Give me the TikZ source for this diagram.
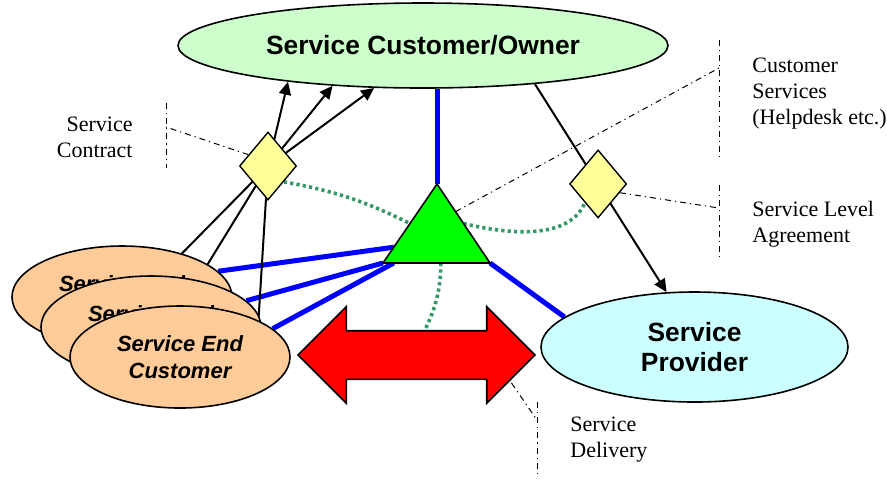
\documentclass[tikz,border=0pt]{standalone}
\usepackage{fontspec}
\setmainfont{Liberation Serif}
\setsansfont{Liberation Sans}
\usepackage{xcolor}
\definecolor{ownergreen}{RGB}{204,255,204}
\definecolor{providercyan}{RGB}{204,255,255}
\definecolor{custpeach}{RGB}{255,204,153}
\definecolor{slayellow}{RGB}{255,255,153}
\definecolor{hubgreen}{RGB}{0,255,0}
\definecolor{tracegreen}{RGB}{51,153,102}
\usepackage{tikz}
\usetikzlibrary{positioning,calc,backgrounds}
\usetikzlibrary{shapes.geometric,shapes.arrows}
\usetikzlibrary{arrows.meta}
\tikzset{>={Triangle[length=6.5pt,width=6pt]}}
\tikzset{
  party/.style    ={ ellipse, draw=black, line width=0.8pt, inner sep=0pt, align=center,
                     font=\sffamily\bfseries\fontsize{13.2}{15}\selectfont },
  customer/.style ={ party, fill=custpeach, minimum width=110pt, minimum height=51pt,
                     font=\sffamily\bfseries\itshape\fontsize{11}{13.5}\selectfont },
  agreement/.style={ diamond, draw=black, line width=0.7pt, fill=slayellow, inner sep=0pt,
                     minimum width=28.5pt, minimum height=34pt },
  note/.style     ={ font=\fontsize{11}{13}\selectfont, inner sep=0pt },
  link/.style     ={ draw=blue, line width=2.5pt },
  tie/.style      ={ draw=black, line width=1pt },
  flow/.style     ={ ->, draw=black, line width=1pt },
  trace/.style    ={ draw=tracegreen, line width=1.8pt, dash pattern=on 1.6pt off 1.6pt },
  leader/.style   ={ draw=black, line width=0.5pt, dash pattern=on 3pt off 2pt on 0.6pt off 2pt }
}

\begin{document}
\begin{tikzpicture}[x=0.5pt,y=-0.5pt]
\useasboundingbox (0,0) rectangle (887,484);

\node[party, fill=ownergreen,   minimum width=245pt,   minimum height=42.5pt] (owner)    at (423, 45.5) {Service Customer/Owner};
\node[party, fill=providercyan, minimum width=153.5pt, minimum height=55pt]   (provider) at (694.5, 347) {Service\\Provider};

\node[customer] (endA) at (122, 297) {Service End\\Customer};
\node[customer] (endB) at (151, 327) {Service End\\Customer};
\node[customer] (endC) at (180, 357) {Service End\\Customer};

\node[agreement] (contract) at (268, 166) {};
\node[agreement] (sla) at ($(owner.341)!0.48!(provider.117)$) {};

\coordinate (hubTop) at (437, 184);
\coordinate (hubL)   at (383, 263);
\coordinate (hubR)   at (490, 263);
\draw[fill=hubgreen, line width=0.8pt, line join=miter] (hubTop) -- (hubL) -- (hubR) -- cycle;

\node[double arrow, draw=black, line width=0.8pt, fill=red, inner xsep=0pt, inner ysep=11.75pt,
      minimum height=118.5pt, minimum width=47.5pt, double arrow head extend=12pt] (delivery) at (416.5, 355) {};

% leader lines and notes
\coordinate (scTop)  at (166, 103);
\coordinate (scBot)  at (166, 168);
\coordinate (scMid)  at (166, 127);
\coordinate (csTop)  at (719, 40);
\coordinate (csBot)  at (719, 157);
\coordinate (csMid)  at (719, 68);
\coordinate (slaTop) at (719, 185);
\coordinate (slaBot) at (719, 260);
\coordinate (slaMid) at (719, 208);
\coordinate (sdTop)  at (537, 402);
\coordinate (sdBot)  at (537, 477);
\coordinate (sdMid)  at (537, 420);

\node[note, align=right, anchor=east] (scNote)  at (133, 137.5) {Service\\Contract};
\node[note, align=left,  anchor=west] (csNote)  at (752, 94)    {Customer\\Services\\(Helpdesk etc.)};
\node[note, align=left,  anchor=west] (slaNote) at (752, 224.5) {Service Level\\Agreement};
\node[note, align=left,  anchor=west] (sdNote)  at (570, 440)   {Service\\Delivery};

\draw[leader] (scTop) -- (scBot);
\draw[leader] (csTop) -- (csBot);
\draw[leader] (slaTop) -- (slaBot);
\draw[leader] (sdTop) -- (sdBot);
\draw[leader] (contract.150) -- (scMid);
\draw[leader] ($(hubTop)!0.35!(hubR)$) -- (csMid);
\draw[leader] (sla.-22) -- (slaMid);
\draw[leader] ($(delivery.center)+(95,28)$) -- (sdMid);

\begin{scope}[on background layer]
\draw[link] (hubTop |- owner.south) -- (hubTop);
\draw[link] (hubR) -- (provider.167);
\draw[link] ($(hubTop)!0.8!(hubL)$) -- (endA.15);
\draw[link] (hubL) -- (endB);
\draw[link] ($(hubL)!0.1!(hubR)$) -- (endC.17);

\draw[tie] (endA.36) -- (contract.center);
\draw[tie] (endB.45) -- (contract.center);
\draw[tie] (endC.25) -- (contract.center);
\draw[flow] (contract.center) -- (owner.195);
\draw[flow] (contract.center) -- (owner.204);
\draw[flow] (contract.center) -- (owner.221);
\draw[flow] (owner.341) -- (provider.117);

\draw[trace] (contract.-45) to[bend left=8] ($(hubTop)!0.5!(hubL)$);
\draw[trace] ($(hubTop)!0.5!(hubR)$) .. controls (515, 236) and (570, 238) .. (sla.235);
\draw[trace] ($(hubL)!0.54!(hubR)$) .. controls (441, 295) and (432, 315) .. ($(delivery.center)+(8,-24)$);
\end{scope}

\end{tikzpicture}
\end{document}
